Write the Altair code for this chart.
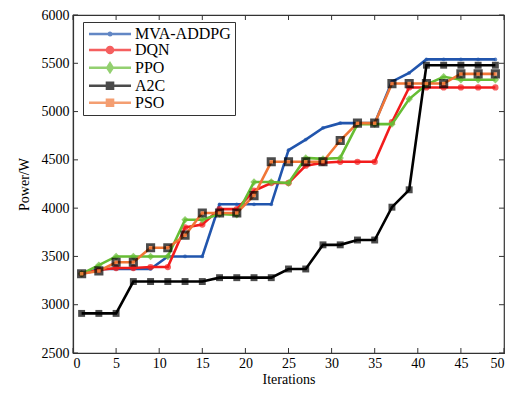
import altair as alt
import pandas as pd

iterations = [1, 3, 5, 7, 9, 11, 13, 15, 17, 19, 21, 23, 25, 27, 29, 31, 33, 35, 37, 39, 41, 43, 45, 47, 49]
mva_addpg = [3320, 3370, 3370, 3370, 3370, 3500, 3500, 3500, 4040, 4040, 4040, 4040, 4600, 4710, 4830, 4880, 4880, 4880, 5310, 5400, 5540, 5540, 5540, 5540, 5540]
dqn = [3320, 3360, 3380, 3380, 3390, 3390, 3800, 3830, 3990, 3990, 4180, 4260, 4260, 4440, 4470, 4480, 4480, 4480, 4890, 5250, 5250, 5250, 5250, 5250, 5250]
ppo = [3320, 3410, 3500, 3500, 3500, 3500, 3880, 3880, 3940, 3930, 4270, 4270, 4260, 4520, 4510, 4520, 4870, 4870, 4870, 5130, 5280, 5360, 5330, 5330, 5330]
a2c = [2910, 2910, 2910, 3240, 3240, 3240, 3240, 3240, 3280, 3280, 3280, 3280, 3370, 3370, 3620, 3620, 3670, 3670, 4010, 4190, 5480, 5480, 5480, 5480, 5480]
pso = [3320, 3350, 3440, 3440, 3590, 3590, 3720, 3950, 3950, 3950, 4130, 4480, 4480, 4480, 4480, 4700, 4880, 4880, 5290, 5290, 5290, 5290, 5390, 5390, 5390]

series_names = ["MVA-ADDPG", "DQN", "PPO", "A2C", "PSO"]
series_values = [mva_addpg, dqn, ppo, a2c, pso]
colors = ["#2155ad", "#f21c1c", "#66bd34", "#000000", "#f07636"]

x_ticks = [0, 5, 10, 15, 20, 25, 30, 35, 40, 45, 50]
y_ticks = [2500, 3000, 3500, 4000, 4500, 5000, 5500, 6000]

W, H = 431, 338
FONT = "Liberation Serif"

rows = []
for name, vals in zip(series_names, series_values):
    for it, v in zip(iterations, vals):
        rows.append({"iteration": it, "value": v, "series": name})
df = pd.DataFrame(rows)

xs = alt.Scale(domain=[0, 50], nice=False)
ys = alt.Scale(domain=[2500, 6000], nice=False)

x_enc = alt.X("iteration:Q", scale=xs,
              axis=alt.Axis(values=x_ticks, title="Iterations", ticks=False, grid=False, format="d",
                            labelPadding=3, titlePadding=2))
y_enc = alt.Y("value:Q", scale=ys,
              axis=alt.Axis(values=y_ticks, title="Power/W", ticks=False, grid=False, format="d",
                            labelPadding=4, titlePadding=10))

point_styles = {
    "MVA-ADDPG": dict(shape="circle", size=14, filled=True, color=colors[0]),
    "DQN": dict(shape="circle", size=40, filled=True, color=colors[1]),
    "PPO": dict(shape="diamond", size=55, filled=True, color=colors[2]),
    "A2C": dict(shape="square", size=48, filled=True, color=colors[3]),
    "PSO": dict(shape="square", size=40, filled=True, fill=colors[4], stroke="#000000", strokeWidth=2.8),
}

layers = []
for name, col in zip(series_names, colors):
    sub = df[df["series"] == name]
    line = alt.Chart(sub).mark_line(color=col, strokeWidth=2.6).encode(x=x_enc, y=y_enc)
    pts = alt.Chart(sub).mark_point(**point_styles[name]).encode(x=x_enc, y=y_enc)
    layers += [line, pts]

# legend-only layer (no visible marks); 1 path unit = 6 px
legend_paths = [
    "M-1,0H6M2.3,0A0.2,0.2 0 1,0 2.7,0A0.2,0.2 0 1,0 2.3,0Z",
    "M-1,0H6M2,0A0.5,0.5 0 1,0 3,0A0.5,0.5 0 1,0 2,0Z",
    "M-1,0H6M2.5,-0.7L2.95,0L2.5,0.7L2.05,0Z",
    "M-1,0H6M2.0,-0.5H3.0V0.5H2.0Z",
    "M-1,0H6M2.0,-0.5H3.0V0.5H2.0Z",
]
leg = alt.Legend(title=None, orient="none", legendX=10, legendY=7,
                 labelFont=FONT, labelFontSize=16, labelColor="#000",
                 symbolSize=144, symbolStrokeWidth=2.6, labelOffset=32,
                 strokeColor="#333", fillColor="white", padding=4, rowPadding=-1.3,
                 labelLimit=200)
legend_layer = alt.Chart(df).mark_point(filled=True).encode(
    x=x_enc, y=y_enc,
    color=alt.Color("series:N", scale=alt.Scale(domain=series_names, range=colors), legend=leg),
    stroke=alt.Stroke("series:N", scale=alt.Scale(domain=series_names, range=colors), legend=leg),
    shape=alt.Shape("series:N", scale=alt.Scale(domain=series_names, range=legend_paths), legend=leg),
).transform_filter("datum.value < 0")

# inward ticks on all four sides
xt = pd.DataFrame({"t": x_ticks})
yt = pd.DataFrame({"t": y_ticks})
tick_col = "#333"
bx = alt.Chart(xt).mark_rule(color=tick_col).encode(x=alt.X("t:Q", scale=xs), y=alt.value(H), y2=alt.value(H - 5))
tx = alt.Chart(xt).mark_rule(color=tick_col).encode(x=alt.X("t:Q", scale=xs), y=alt.value(0), y2=alt.value(5))
ly = alt.Chart(yt).mark_rule(color=tick_col).encode(y=alt.Y("t:Q", scale=ys), x=alt.value(0), x2=alt.value(5))
ry = alt.Chart(yt).mark_rule(color=tick_col).encode(y=alt.Y("t:Q", scale=ys), x=alt.value(W), x2=alt.value(W - 5))

chart = alt.layer(bx, tx, ly, ry, *layers, legend_layer).properties(
    width=W, height=H,
    padding={"left": 73, "top": 15, "right": 14, "bottom": 42},
    autosize=alt.AutoSizeParams(type="none"),
    background="white",
).configure_view(stroke="#333", strokeWidth=1.2).configure_axis(
    labelFont=FONT, labelFontSize=14, labelColor="#000",
    titleFont=FONT, titleFontSize=14, titleFontWeight="normal", titleColor="#000",
    domainColor="#333", domainWidth=1.2,
)

chart.save("out.html", embed_options={"renderer": "svg", "actions": False})
